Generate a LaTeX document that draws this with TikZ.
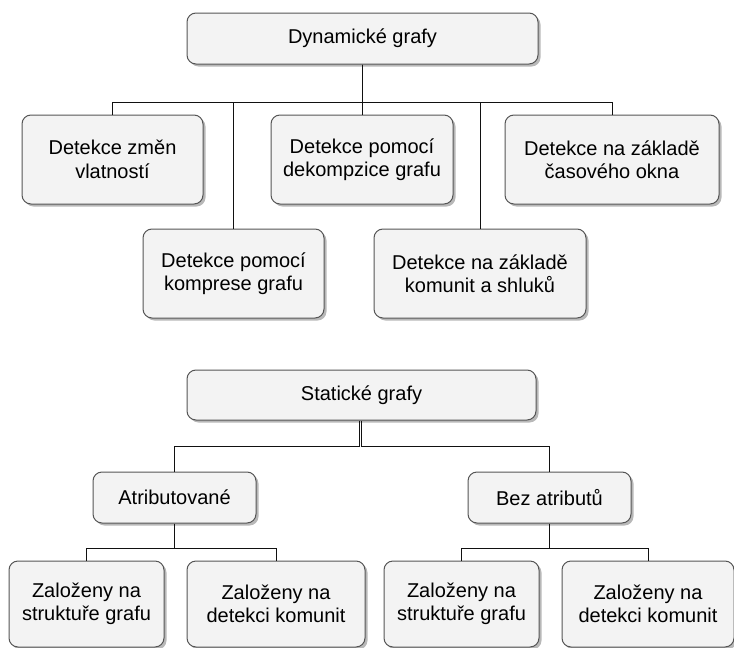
\documentclass[tikz,border=0pt]{standalone}
\usepackage{fontspec}
\setmainfont{Liberation Sans}
\usetikzlibrary{shadows}
\definecolor{boxfill}{HTML}{F3F3F3}
\definecolor{boxline}{HTML}{555555}
\definecolor{wire}{HTML}{111111}
\tikzset{
  card/.style={draw=boxline, line width=1pt, fill=boxfill, rounded corners=9pt,
    align=center, inner sep=0pt, text=black,
    font=\fontsize{20}{23.5}\selectfont,
    drop shadow={shadow xshift=2.5pt, shadow yshift=-2.5pt, fill=black, opacity=0.28}},
  link/.style={draw=wire, line width=1pt}
}
\begin{document}
\begin{tikzpicture}[x=1pt,y=-1pt]
\useasboundingbox (0,0) rectangle (734,648);

% --- dynamic graphs ---
\node[card, minimum width=351pt, minimum height=51pt] (dyn) at (362.5,38.5) {Dynamické grafy};
\node[card, minimum width=181pt, minimum height=89pt] (zmen) at (112.5,159.5) {Detekce změn\\vlatností};
\node[card, minimum width=181pt, minimum height=89pt] (komp) at (233.5,273.5) {Detekce pomocí\\komprese grafu};
\node[card, minimum width=182pt, minimum height=89pt] (dekomp) at (362,159.5) {Detekce pomocí\\dekompzice grafu};
\node[card, minimum width=214pt, minimum height=89pt] (okno) at (612,159.5) {Detekce na základě\\časového okna};
\node[card, minimum width=212pt, minimum height=89pt] (shluk) at (480,273.5) {Detekce na základě\\komunit a shluků};

\coordinate (tbus) at (0,102);
\foreach \t in {zmen,komp,dekomp,okno,shluk}
  \draw[link] (dyn.south) -- (dyn.south |- tbus) -| (\t.north);

% --- static graphs ---
\node[card, minimum width=349pt, minimum height=50pt] (stat) at (361.5,395) {Statické grafy};
\node[card, minimum width=163pt, minimum height=51pt] (attr) at (174.5,497.5) {Atributované};
\node[card, minimum width=163pt, minimum height=51pt] (bez) at (549.5,497.5) {Bez atributů};
\node[card, minimum width=155pt, minimum height=86pt] (la) at (86.5,604) {Založeny na\\struktuře grafu};
\node[card, minimum width=178pt, minimum height=86pt] (lb) at (276,604) {Založeny na\\detekci komunit};
\node[card, minimum width=155pt, minimum height=86pt] (ra) at (461.5,604) {Založeny na\\struktuře grafu};
\node[card, minimum width=172pt, minimum height=86pt] (rb) at (648,604) {Založeny na\\detekci komunit};

\coordinate (sbus) at (0,446);
\coordinate (lbus) at (0,548);
\draw[link] ([xshift=-2.5pt]stat.south) -- ([xshift=-2.5pt]stat.south |- sbus) -| (attr.north);
\draw[link] (stat.south) -- (stat.south |- sbus) -| (bez.north);
\foreach \t in {la,lb}
  \draw[link] (attr.south) -- (attr.south |- lbus) -| (\t.north);
\foreach \t in {ra,rb}
  \draw[link] (bez.south) -- (bez.south |- lbus) -| (\t.north);
\end{tikzpicture}
\end{document}
